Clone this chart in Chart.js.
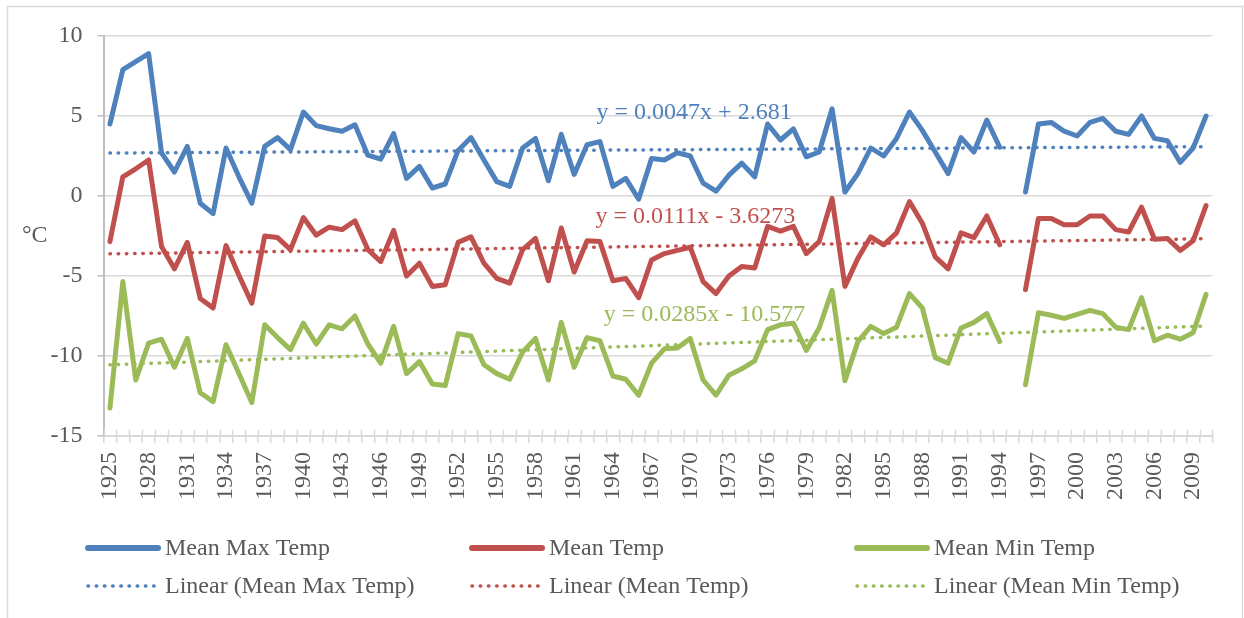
<!DOCTYPE html>
<html>
<head>
<meta charset="utf-8">
<script src="https://cdn.jsdelivr.net/npm/chart.js@4.4.1/dist/chart.umd.min.js"></script>
<style>
  html, body { margin: 0; padding: 0; background: #ffffff; }
  canvas { display: block; }
</style>
</head>
<body>
<canvas id="chart" width="1244" height="618"></canvas>
<script>
// Annual temperatures, 1925-2010 (no record for 1995)
const years = Array.from({ length: 86 }, (_, i) => String(1925 + i));

const meanMaxTemp = [
  4.5, 7.9, 8.4, 8.9, 2.7, 1.5, 3.1, -0.45, -1.1, 3.0,
  1.2, -0.45, 3.1, 3.65, 2.9, 5.25, 4.4, 4.2, 4.05, 4.45,
  2.55, 2.3, 3.9, 1.1, 1.85, 0.5, 0.75, 2.85, 3.65, 2.25,
  0.9, 0.6, 3.0, 3.6, 0.95, 3.85, 1.35, 3.2, 3.4, 0.6,
  1.1, -0.2, 2.35, 2.25, 2.7, 2.5, 0.8, 0.3, 1.3, 2.05,
  1.2, 4.5, 3.5, 4.2, 2.45, 2.75, 5.45, 0.25, 1.4, 3.0,
  2.5, 3.6, 5.25, 4.1, 2.75, 1.4, 3.65, 2.75, 4.75, 3.05,
  null, 0.25, 4.5, 4.6, 4.05, 3.75, 4.6, 4.85, 4.05, 3.85,
  5.0, 3.6, 3.45, 2.1, 3.0, 5.0
];

const meanTemp = [
  -2.85, 1.2, 1.7, 2.25, -3.15, -4.55, -2.9, -6.4, -7.0, -3.1,
  -4.95, -6.7, -2.5, -2.6, -3.35, -1.35, -2.45, -1.95, -2.1, -1.55,
  -3.35, -4.1, -2.15, -5.0, -4.2, -5.65, -5.55, -2.9, -2.55, -4.2,
  -5.15, -5.45, -3.35, -2.65, -5.3, -2.0, -4.75, -2.8, -2.85, -5.3,
  -5.15, -6.35, -4.0, -3.6, -3.4, -3.2, -5.35, -6.1, -5.0, -4.4,
  -4.5, -1.9, -2.2, -1.9, -3.6, -2.85, -0.15, -5.65, -3.9, -2.55,
  -3.05, -2.3, -0.35, -1.7, -3.8, -4.55, -2.3, -2.6, -1.25, -3.05,
  null, -5.85, -1.4, -1.4, -1.8, -1.8, -1.25, -1.25, -2.1, -2.25,
  -0.7, -2.7, -2.65, -3.4, -2.8, -0.6
];

const meanMinTemp = [
  -13.25, -5.35, -11.5, -9.2, -8.95, -10.7, -8.9, -12.3, -12.85, -9.3,
  -11.1, -12.9, -8.05, -8.85, -9.6, -7.95, -9.25, -8.05, -8.3, -7.5,
  -9.25, -10.45, -8.15, -11.1, -10.35, -11.75, -11.85, -8.6, -8.75, -10.55,
  -11.1, -11.45, -9.75, -8.9, -11.5, -7.9, -10.7, -8.85, -9.05, -11.25,
  -11.45, -12.45, -10.45, -9.55, -9.5, -8.9, -11.5, -12.45, -11.2, -10.8,
  -10.3, -8.35, -8.05, -7.95, -9.65, -8.25, -5.9, -11.55, -9.1, -8.15,
  -8.6, -8.2, -6.1, -7.0, -10.1, -10.45, -8.25, -7.9, -7.35, -9.1,
  null, -11.8, -7.3, -7.45, -7.65, -7.4, -7.15, -7.35, -8.2, -8.35,
  -6.35, -9.05, -8.7, -8.95, -8.55, -6.15
];

// Linear trend coefficients (x = 1 for the first year)
const trendSlopes = [0.0047, 0.0111, 0.0285];
const trendIntercepts = [2.681, -3.6273, -10.577];
const trendEquations = ['y = 0.0047x + 2.681', 'y = 0.0111x - 3.6273', 'y = 0.0285x - 10.577'];

const seriesNames = ['Mean Max Temp', 'Mean Temp', 'Mean Min Temp'];
const seriesValues = [meanMaxTemp, meanTemp, meanMinTemp];
const yTickValues = [-15, -10, -5, 0, 5, 10];
const yAxisUnit = '°C';

const seriesColors = ['#4F81BD', '#C0504D', '#9BBB59'];
const textColor = '#595959';
const fontFamily = '"Liberation Serif", "Times New Roman", serif';
const fontSize = 24;

// Equation label anchors in (category index, value) units
const equationAnchors = [[45.3, 5.2], [45.4, -1.3], [46.1, -7.45]];

const trendValues = trendSlopes.map((m, s) =>
  years.map((_, i) => m * (i + 1) + trendIntercepts[s]));

const datasets = [];
seriesValues.forEach((vals, s) => {
  datasets.push({
    label: seriesNames[s],
    data: vals,
    borderColor: seriesColors[s],
    backgroundColor: seriesColors[s],
    borderWidth: 5,
    pointRadius: 0,
    pointHoverRadius: 0,
    tension: 0,
    spanGaps: false,
    borderJoinStyle: 'round',
    borderCapStyle: 'round',
    order: 2
  });
});
trendValues.forEach((vals, s) => {
  datasets.push({
    label: 'Linear (' + seriesNames[s] + ')',
    data: vals,
    borderColor: seriesColors[s],
    backgroundColor: seriesColors[s],
    borderWidth: 3.5,
    borderDash: [0.5, 7.7],
    borderCapStyle: 'round',
    pointRadius: 0,
    pointHoverRadius: 0,
    tension: 0,
    order: 1
  });
});

const extrasPlugin = {
  id: 'extras',
  afterDatasetsDraw(chart) {
    const ctx = chart.ctx;
    const x = chart.scales.x;
    const y = chart.scales.y;
    const area = chart.chartArea;
    ctx.save();

    // category tick marks crossing the x axis
    const half = (x.getPixelForValue(1) - x.getPixelForValue(0)) / 2;
    ctx.strokeStyle = '#D9D9D9';
    ctx.lineWidth = 1.5;
    ctx.beginPath();
    for (let i = 0; i <= years.length; i++) {
      const px = Math.round(x.getPixelForValue(i) - half) + 0.5;
      ctx.moveTo(px, area.bottom - 6);
      ctx.lineTo(px, area.bottom);
    }
    ctx.stroke();

    // trend equations
    ctx.font = fontSize + 'px ' + fontFamily;
    ctx.textAlign = 'center';
    ctx.textBaseline = 'middle';
    trendEquations.forEach((t, s) => {
      ctx.fillStyle = seriesColors[s];
      ctx.fillText(t, x.getPixelForValue(equationAnchors[s][0]), y.getPixelForValue(equationAnchors[s][1]));
    });
    ctx.restore();
  },
  afterDraw(chart) {
    const ctx = chart.ctx;
    const area = chart.chartArea;
    ctx.save();

    // outer frame
    ctx.strokeStyle = '#D9D9D9';
    ctx.lineWidth = 1.5;
    ctx.strokeRect(7.5, 6.5, 1235, 640);

    // unit label
    ctx.font = fontSize + 'px ' + fontFamily;
    ctx.fillStyle = textColor;
    ctx.textAlign = 'left';
    ctx.textBaseline = 'middle';
    ctx.fillText(yAxisUnit, 22, (area.top + area.bottom) / 2);

    // legend: three columns, solid series above, trends below
    const colX = [88, 472, 857];
    const rowY = [548, 586];
    const sampleLen = 70;
    chart.data.datasets.forEach((ds, k) => {
      const col = k % 3;
      const row = Math.floor(k / 3);
      const x0 = colX[col];
      const yy = rowY[row];
      ctx.strokeStyle = ds.borderColor;
      ctx.lineWidth = row === 0 ? 6 : 3.5;
      ctx.lineCap = 'round';
      ctx.setLineDash(row === 0 ? [] : [0.5, 7.7]);
      ctx.beginPath();
      ctx.moveTo(x0, yy);
      ctx.lineTo(x0 + sampleLen, yy);
      ctx.stroke();
      ctx.setLineDash([]);
      ctx.fillStyle = textColor;
      ctx.fillText(ds.label, x0 + sampleLen + 7, yy + 1);
    });
    ctx.restore();
  }
};

new Chart(document.getElementById('chart'), {
  type: 'line',
  data: { labels: years, datasets: datasets },
  options: {
    responsive: false,
    animation: false,
    devicePixelRatio: 1,
    layout: { padding: { top: 36, left: 0, right: 29.5, bottom: 100 } },
    plugins: { legend: { display: false }, tooltip: { enabled: false } },
    scales: {
      x: {
        type: 'category',
        offset: true,
        afterFit(scale) { scale.height = 82; },
        grid: {
          display: true,
          offset: true,
          drawOnChartArea: false,
          drawTicks: true,
          tickLength: 7,
          color: '#D9D9D9',
          tickColor: '#D9D9D9',
          lineWidth: 1.5
        },
        border: { display: true, color: '#D9D9D9', width: 2 },
        ticks: {
          autoSkip: false,
          maxRotation: 90,
          minRotation: 90,
          padding: 9,
          color: textColor,
          font: { family: fontFamily, size: fontSize },
          callback(value, index) { return index % 3 === 0 ? years[index] : ''; }
        }
      },
      y: {
        min: -15,
        max: 10,
        afterFit(scale) { scale.width = 103.5; },
        afterBuildTicks(scale) { scale.ticks = yTickValues.map(v => ({ value: v })); },
        grid: {
          color: '#D9D9D9',
          tickColor: '#BFBFBF',
          lineWidth: 1.5,
          drawTicks: true,
          tickLength: 6
        },
        border: { display: true, color: '#BFBFBF', width: 2 },
        ticks: {
          padding: 15,
          color: textColor,
          font: { family: fontFamily, size: fontSize }
        }
      }
    }
  },
  plugins: [extrasPlugin]
});
</script>
</body>
</html>
